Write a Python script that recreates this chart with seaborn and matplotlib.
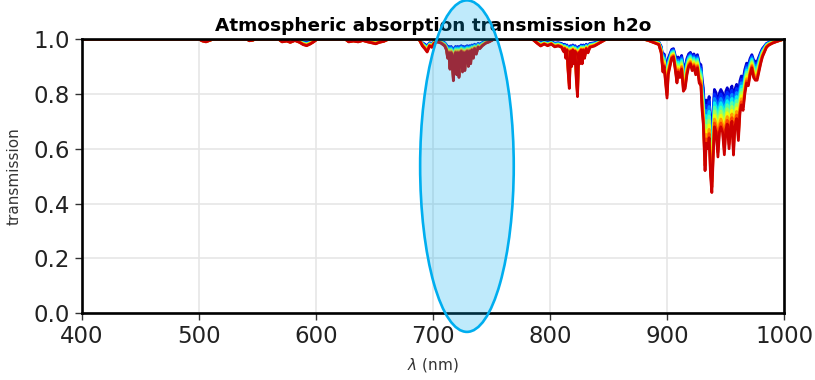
import numpy as np
import pandas as pd
import seaborn as sns
import matplotlib
matplotlib.use("Agg")
import matplotlib.pyplot as plt
from matplotlib.patches import Ellipse

# Reference H2O transmission spectrum (at the largest precipitable water amount)
wl_visible = [400, 500, 503, 506, 509, 512, 541, 543, 546, 548,
              568, 571, 575, 578, 582, 586, 589, 592, 595, 598, 601,
              625, 628, 632, 636, 640, 644, 648, 651, 654, 658, 662]
tr_visible = [1.0, 1.0, 0.993, 0.99, 0.995, 1.0, 1.0, 0.994, 0.996, 1.0,
              1.0, 0.99, 0.993, 0.988, 0.995, 0.988, 0.98, 0.976, 0.982, 0.99, 1.0,
              1.0, 0.99, 0.993, 0.99, 0.995, 0.99, 0.986, 0.983, 0.988, 0.992, 1.0]

wl_band720 = [688, 691, 693, 695, 697, 699, 701, 704, 707, 710, 711.5, 712.5,
              713.5, 714.5, 715.5, 716.5, 717.4, 718.3, 719.3, 720.2, 721.2, 722.2,
              723.2, 724.2, 725.2, 726.2, 727.2, 728.2, 729.2, 730.2, 731.2, 732.2,
              733.2, 734.5, 735.5, 737, 738.5, 740, 742, 745, 748, 752]
tr_band720 = [1.0, 0.975, 0.965, 0.953, 0.975, 0.97, 0.985, 0.99, 0.985, 0.975, 0.96, 0.93,
              0.95, 0.89, 0.95, 0.90, 0.848, 0.94, 0.95, 0.87, 0.95, 0.86,
              0.95, 0.955, 0.88, 0.95, 0.885, 0.95, 0.955, 0.90, 0.955, 0.91,
              0.96, 0.93, 0.965, 0.945, 0.97, 0.965, 0.975, 0.985, 0.99, 1.0]

wl_band820 = [785, 789, 792, 795, 798, 801, 804, 807, 810, 811.5, 812.5, 813.5,
              814.5, 815.5, 816.5, 817.5, 818.5, 819.5, 820.5, 821.5, 822.5, 823.5,
              824.5, 825.5, 826.5, 827.5, 828.5, 829.5, 831, 832.5, 834, 838, 842, 848]
tr_band820 = [1.0, 0.985, 0.975, 0.982, 0.976, 0.982, 0.972, 0.975, 0.97, 0.955, 0.965, 0.93,
              0.96, 0.88, 0.82, 0.955, 0.90, 0.96, 0.91, 0.955, 0.85, 0.79,
              0.95, 0.91, 0.96, 0.91, 0.96, 0.93, 0.965, 0.95, 0.97, 0.975, 0.985, 1.0]

wl_band940 = [880, 884, 887, 890, 893, 895, 896.5, 897.5, 899, 900, 901, 902.5,
              904, 905.5, 907, 908.5, 909.5, 911, 912.5, 914, 915.5, 917, 918.5,
              920, 921.5, 923, 924.5, 926, 927.5, 929, 930, 931, 932.5, 933.5,
              935, 936, 937.2, 938.3, 939.3, 940.5, 942, 943.5, 944.8, 946, 947.5,
              949, 950.3, 951.5, 953, 954.3, 955.5, 956.8, 958, 959.5, 961, 962.3,
              963.5, 965, 966.5, 968, 969.5, 971, 972.5, 974, 975.5, 977, 978.5,
              980, 981.5, 983, 985, 987, 990, 993, 997, 1000]
tr_band940 = [1.0, 0.995, 0.99, 0.985, 0.98, 0.95, 0.88, 0.90, 0.83, 0.785, 0.87, 0.90,
              0.93, 0.935, 0.89, 0.84, 0.88, 0.86, 0.89, 0.81, 0.82, 0.87, 0.90,
              0.91, 0.885, 0.90, 0.87, 0.895, 0.84, 0.83, 0.74, 0.69, 0.52, 0.62,
              0.60, 0.64, 0.50, 0.44, 0.55, 0.68, 0.66, 0.57, 0.66, 0.68, 0.66,
              0.578, 0.67, 0.69, 0.60, 0.68, 0.70, 0.577, 0.68, 0.71, 0.63, 0.73,
              0.76, 0.74, 0.80, 0.84, 0.83, 0.87, 0.895, 0.86, 0.85, 0.85, 0.88,
              0.91, 0.935, 0.95, 0.97, 0.978, 0.985, 0.99, 0.996, 1.0]

# Precipitable water vapour amounts (mm); the reference spectrum is at the last one
pwv_mm = [2.5, 2.75, 3.0, 3.25, 3.5, 3.75, 4.0, 4.25, 4.5, 4.75]
pwv_ref = pwv_mm[-1]

wavelength = np.array(wl_visible + wl_band720 + [760, 780] + wl_band820 + [860, 875] + wl_band940)
trans_ref = np.array(tr_visible + tr_band720 + [1.0, 1.0] + tr_band820 + [1.0, 1.0] + tr_band940)

frames = []
for w in pwv_mm:
    # Beer-Lambert scaling of the optical depth with water amount
    frames.append(pd.DataFrame({
        "wavelength": wavelength,
        "transmission": trans_ref ** (w / pwv_ref),
        "pwv": f"{w:.2f} mm",
    }))
df = pd.concat(frames, ignore_index=True)
hue_order = [f"{w:.2f} mm" for w in pwv_mm]
n = len(pwv_mm)
jet_colors = [tuple(c) for c in plt.get_cmap("jet")(np.linspace(0.07, 0.93, n))]

sns.set_style("whitegrid", {"grid.color": "#e6e6e6", "axes.edgecolor": "black"})
plt.rcParams["font.family"] = ["DejaVu Sans"]

fig = plt.figure(figsize=(8.15, 3.8), dpi=100)
ax = fig.add_axes([0.1006, 0.176, 0.8614, 0.721])

sns.lineplot(data=df, x="wavelength", y="transmission", hue="pwv", hue_order=hue_order,
             palette=jet_colors, estimator=None, sort=False,
             linewidth=2, legend=False, ax=ax)

ax.set_xlim(400, 1000)
ax.set_ylim(0, 1)
ax.set_xticks(np.arange(400, 1001, 100))
ax.set_yticks(np.arange(0, 1.01, 0.2))
ax.yaxis.set_major_formatter(matplotlib.ticker.FormatStrFormatter("%.1f"))
ax.tick_params(axis="both", labelsize=16.5, length=5, width=1, color="#333333",
               bottom=True, left=True, labelcolor="#222222")
ax.grid(True, color="#e6e6e6", linewidth=1.2)
for sp in ax.spines.values():
    sp.set_color("black")
    sp.set_linewidth(1.9)

ax.set_title("Atmospheric absorption transmission h2o", fontweight="bold",
             fontsize=13.3, pad=6, color="black")
ax.set_xlabel(r"$\lambda$ (nm)", fontsize=11, color="#333333", labelpad=6)
ax.set_ylabel("transmission", fontsize=11, color="#333333", labelpad=9)

# Highlight the 720 nm water band
highlight = Ellipse((729, 0.5365), width=80, height=1.21,
                    facecolor=(0.0, 0.68, 0.94, 0.25), edgecolor="#00aeef",
                    linewidth=1.9, clip_on=False, zorder=10)
ax.add_patch(highlight)

fig.savefig("out.png", dpi=100)
